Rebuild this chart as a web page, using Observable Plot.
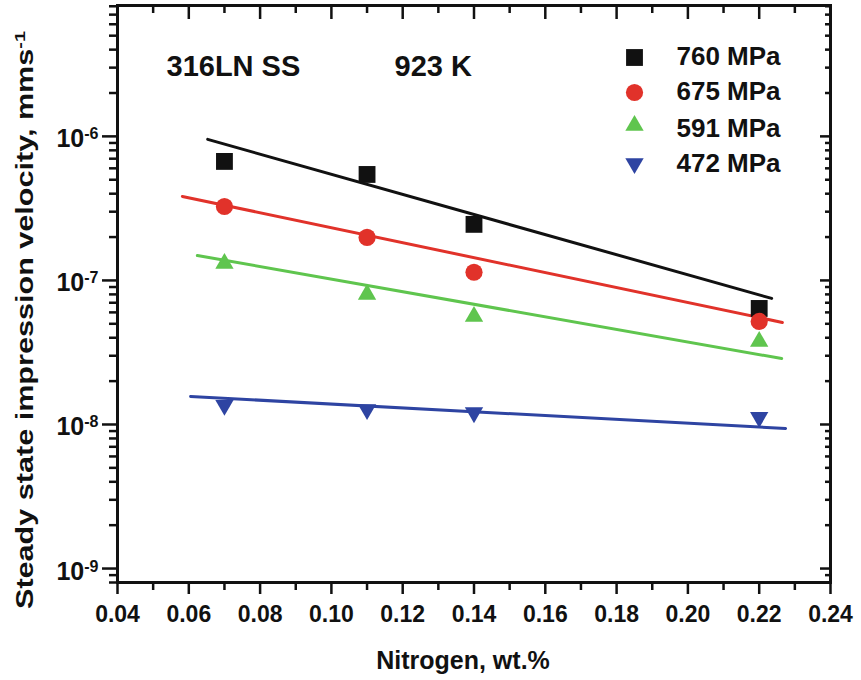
<!DOCTYPE html>
<html><head><meta charset="utf-8">
<script src="https://cdn.jsdelivr.net/npm/d3@7"></script>
<script src="https://cdn.jsdelivr.net/npm/@observablehq/plot@0.6"></script>
<style>body{margin:0;background:#fff;} svg{background:#fff;}</style>
</head><body><div id="chart"></div>
<script>
// ---- data ----
const nitrogen = [0.07, 0.11, 0.14, 0.22];
const series = ["760 MPa", "675 MPa", "591 MPa", "472 MPa"];
const v760 = [6.70e-7, 5.44e-7, 2.45e-7, 6.39e-8];
const v675 = [3.26e-7, 1.99e-7, 1.14e-7, 5.19e-8];
const v591 = [1.31e-7, 8.0e-8, 5.62e-8, 3.77e-8];
const v472 = [1.36e-8, 1.27e-8, 1.21e-8, 1.12e-8];
// fitted lines (start / end)
const fit760X = [0.0653, 0.2235], fit760Y = [9.53e-7, 7.5e-8];
const fit675X = [0.0582, 0.2265], fit675Y = [3.83e-7, 5.11e-8];
const fit591X = [0.0624, 0.2263], fit591Y = [1.49e-7, 2.87e-8];
const fit472X = [0.0605, 0.2274], fit472Y = [1.565e-8, 9.38e-9];
const colors = ["#111111", "#e1322a", "#5fc54e", "#2e44a2"];
const xMajor = [0.04, 0.06, 0.08, 0.10, 0.12, 0.14, 0.16, 0.18, 0.20, 0.22, 0.24];
const xMinor = [0.05, 0.07, 0.09, 0.11, 0.13, 0.15, 0.17, 0.19, 0.21, 0.23];
const yMajor = [1e-9, 1e-8, 1e-7, 1e-6];
const yExp = ["-9", "-8", "-7", "-6"];
const annotations = ["316LN SS", "923 K"];
const xLabel = "Nitrogen, wt.%";
const yLabel = "Steady state impression velocity, mms";
const yLabelSup = "-1";

const yDomain = [8e-10, 8.1e-6];
const yMinor = [];
for (let k = -10; k <= -6; k++) for (let m = 2; m <= 9; m++) {
  const v = m * Math.pow(10, k);
  if (v >= yDomain[0] && v <= yDomain[1]) yMinor.push(v);
}

const allVals = [v760, v675, v591, v472];
const fits = [[fit760X, fit760Y], [fit675X, fit675Y], [fit591X, fit591Y], [fit472X, fit472Y]];
const points = [];
allVals.forEach((vals, s) => vals.forEach((v, i) => points.push({s: series[s], x: nitrogen[i], y: v})));
const lines = [];
fits.forEach(([fx, fy], s) => fx.forEach((x, i) => lines.push({s: series[s], x, y: fy[i]})));

const triangleDown = {
  draw(ctx, size) {
    const y = Math.sqrt(size / (3 * Math.sqrt(3)));
    ctx.moveTo(0, 2 * y);
    ctx.lineTo(-Math.sqrt(3) * y, -y);
    ctx.lineTo(Math.sqrt(3) * y, -y);
    ctx.closePath();
  }
};
const symbols = ["square", "circle", "triangle", triangleDown];
const radii = [9.5, 8.6, 6.8, 6.8];
const font = "'Liberation Sans', Arial, Helvetica, sans-serif";

const marks = [];
series.forEach((s, i) => {
  marks.push(Plot.line(lines.filter(d => d.s === s), {x: "x", y: "y", stroke: colors[i], strokeWidth: 3}));
});
series.forEach((s, i) => {
  marks.push(Plot.dot(points.filter(d => d.s === s), {x: "x", y: "y", symbol: () => symbols[i], r: radii[i], fill: colors[i], stroke: "none"}));
});
// legend (inside frame)
const legendDy = [52, 87, 120, 158];
const legendTextDy = [51, 86, 123, 158];
series.forEach((s, i) => {
  marks.push(Plot.dot([s], {frameAnchor: "top-left", dx: 517, dy: legendDy[i], symbol: () => symbols[i], r: radii[i], fill: colors[i], stroke: "none"}));
  marks.push(Plot.text([s], {frameAnchor: "top-left", dx: 559, dy: legendTextDy[i], text: d => d, textAnchor: "start", lineAnchor: "middle", fontSize: 26, fontWeight: "bold", fill: "#111"}));
});
// annotations
marks.push(Plot.text([annotations[0]], {frameAnchor: "top-left", dx: 49, dy: 61, text: d => d, textAnchor: "start", lineAnchor: "middle", fontSize: 29, fontWeight: "bold", fill: "#111"}));
marks.push(Plot.text([annotations[1]], {frameAnchor: "top-left", dx: 277, dy: 61, text: d => d, textAnchor: "start", lineAnchor: "middle", fontSize: 29, fontWeight: "bold", fill: "#111"}));

// axes
const ax = {label: null, strokeWidth: 2.5, color: "#111"};
marks.push(Plot.axisX({...ax, anchor: "bottom", ticks: xMajor, tickSize: 12, tickPadding: 11, tickFormat: d3.format(".2f"), fontSize: 23, fontWeight: "bold"}));
marks.push(Plot.axisX({...ax, anchor: "bottom", ticks: xMinor, tickSize: 8, tickFormat: () => ""}));
marks.push(Plot.axisX({...ax, anchor: "top", ticks: xMajor, tickSize: 13, dy: 13, tickFormat: () => ""}));
marks.push(Plot.axisX({...ax, anchor: "top", ticks: xMinor, tickSize: 7, dy: 7, tickFormat: () => ""}));
marks.push(Plot.axisY({...ax, anchor: "left", ticks: yMajor, tickSize: 15, tickPadding: 4, tickFormat: d => "10^" + yExp[yMajor.indexOf(d)], fontSize: 25, fontWeight: "bold"}));
marks.push(Plot.axisY({...ax, anchor: "left", ticks: yMinor, tickSize: 8, tickFormat: () => ""}));
marks.push(Plot.axisY({...ax, anchor: "right", ticks: yMajor, tickSize: 11, dx: -11, tickFormat: () => ""}));
marks.push(Plot.axisY({...ax, anchor: "right", ticks: yMinor, tickSize: 6, dx: -6, tickFormat: () => ""}));
marks.push(Plot.frame({stroke: "#111", strokeWidth: 3}));
// axis labels
marks.push(Plot.text([xLabel], {frameAnchor: "bottom", dx: -11, dy: 78, text: d => d, textAnchor: "middle", lineAnchor: "middle", fontSize: 25, fontWeight: "bold", fill: "#111"}));
marks.push(Plot.text([yLabel + "^" + yLabelSup], {frameAnchor: "left", dx: -92, dy: 26, rotate: -90, text: d => d, textAnchor: "middle", lineAnchor: "middle", fontSize: 23, fontWeight: "bold", fill: "#111"}));

const chart = Plot.plot({
  width: 861, height: 680,
  marginLeft: 117, marginRight: 31, marginTop: 5, marginBottom: 98,
  style: {fontFamily: font, background: "#fff", color: "#111"},
  x: {domain: [0.04, 0.24], axis: null},
  y: {type: "log", domain: yDomain, axis: null},
  marks
});
document.getElementById("chart").appendChild(chart);

// turn "a^b" texts into base + superscript tspans
d3.select(chart).selectAll("text").each(function() {
  const t = this.textContent;
  if (!t.includes("^")) return;
  const [base, sup] = t.split("^");
  const sel = d3.select(this);
  sel.text("");
  sel.append("tspan").text(base);
  if (base === "10") {
    sel.attr("y", 11);
    sel.append("tspan").attr("dy", "-0.5em").attr("font-size", "16px").text(sup);
  } else {
    sel.append("tspan").attr("dy", "-0.5em").attr("font-size", "0.65em").text(sup);
    sel.attr("textLength", 578).attr("lengthAdjust", "spacingAndGlyphs");
  }
});
</script>
</body></html>
